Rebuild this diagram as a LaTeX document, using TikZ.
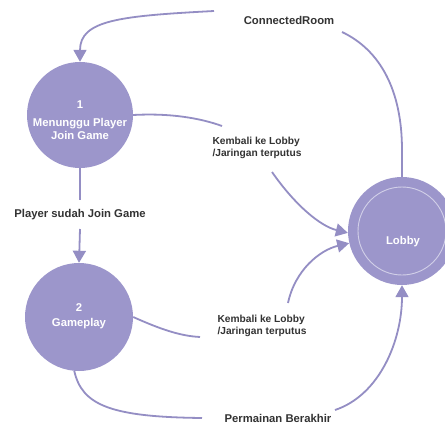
\documentclass[tikz,border=0pt]{standalone}
\usepackage{fontspec}
\setmainfont{Liberation Sans}
\usetikzlibrary{arrows.meta}
\definecolor{pur}{HTML}{9C96CB}
\definecolor{ln}{HTML}{948EC4}
\definecolor{txt}{HTML}{333333}
\begin{document}
\begin{tikzpicture}[x=1pt,y=-1pt,
  state/.style={circle,fill=pur,inner sep=0pt},
  stxt/.style={text=white,font=\bfseries\fontsize{11.3}{13}\selectfont,align=center,inner sep=0pt},
  lbl/.style={text=txt,font=\bfseries\fontsize{11.3}{13}\selectfont,align=center,inner sep=0pt},
  lblk/.style={text=txt,font=\bfseries\fontsize{10.2}{12}\selectfont,align=left,inner sep=0pt},
  conn/.style={draw=ln,line width=1.8pt},
  arr/.style={conn,-{Triangle[width=13pt,length=12pt]}}]
\useasboundingbox[fill=white] (0,0) rectangle (445,423);
% states
\node[state,minimum size=106pt] (s1) at (80,115) {};
\node[state,minimum size=108pt] (s2) at (79,317) {};
\node[state,minimum size=108pt] (lob) at (402,231) {};
\draw[draw=white!55!pur,line width=0.9pt] (lob.center) circle (44pt);
\node[stxt] (s1n) at (80,105) {1};
\node[stxt] (s1t) at (80,129) {Menunggu Player\\Join Game};
\node[stxt] (s2n) at (79,308) {2};
\node[stxt] (s2t) at (79,324) {Gameplay};
\node[stxt] (lobt) at (403,242) {Lobby};
% labels
\node[lbl] (lcr) at (289,20) {ConnectedRoom};
\node[lblk] (lk1) at (257,148) {Kembali ke Lobby\\/Jaringan terputus};
\node[lbl] (lps) at (80,215) {Player sudah Join Game};
\node[lblk] (lk2) at (262,326) {Kembali ke Lobby\\/Jaringan terputus};
\node[lbl] (lpb) at (278,418) {Permainan Berakhir};
% free ends
\coordinate (cra) at (342,32);
\coordinate (crb) at (214,11);
\coordinate (k1a) at (222,126);
\coordinate (k1b) at (272,172);
\coordinate (psa) at (80,200);
\coordinate (psb) at (80,229);
\coordinate (k2a) at (200,337);
\coordinate (k2b) at (288,303);
\coordinate (pba) at (202,418);
\coordinate (pbb) at (335,410);
% connectors
\draw[conn] (lob.north) -- (402,150) .. controls (402,90) and (380,50) .. (cra);
\draw[arr] (crb) .. controls (120,16) and (80,20) .. (s1.north);
\draw[conn] (s1.east) .. controls (170,113) and (200,118) .. (k1a);
\draw[arr] (k1b) .. controls (295,205) and (320,226) .. (lob.182);
\draw[conn] (s1.south) -- (psa);
\draw[arr] (psb) -- (s2.north);
\draw[conn] (s2.east) .. controls (160,329) and (180,336) .. (k2a);
\draw[arr] (k2b) .. controls (295,270) and (320,250) .. (lob.193);
\draw[conn] (s2.265) .. controls (82,405) and (110,417) .. (pba);
\draw[arr] (pbb) .. controls (380,395) and (402,340) .. (lob.south);
\end{tikzpicture}
\end{document}
